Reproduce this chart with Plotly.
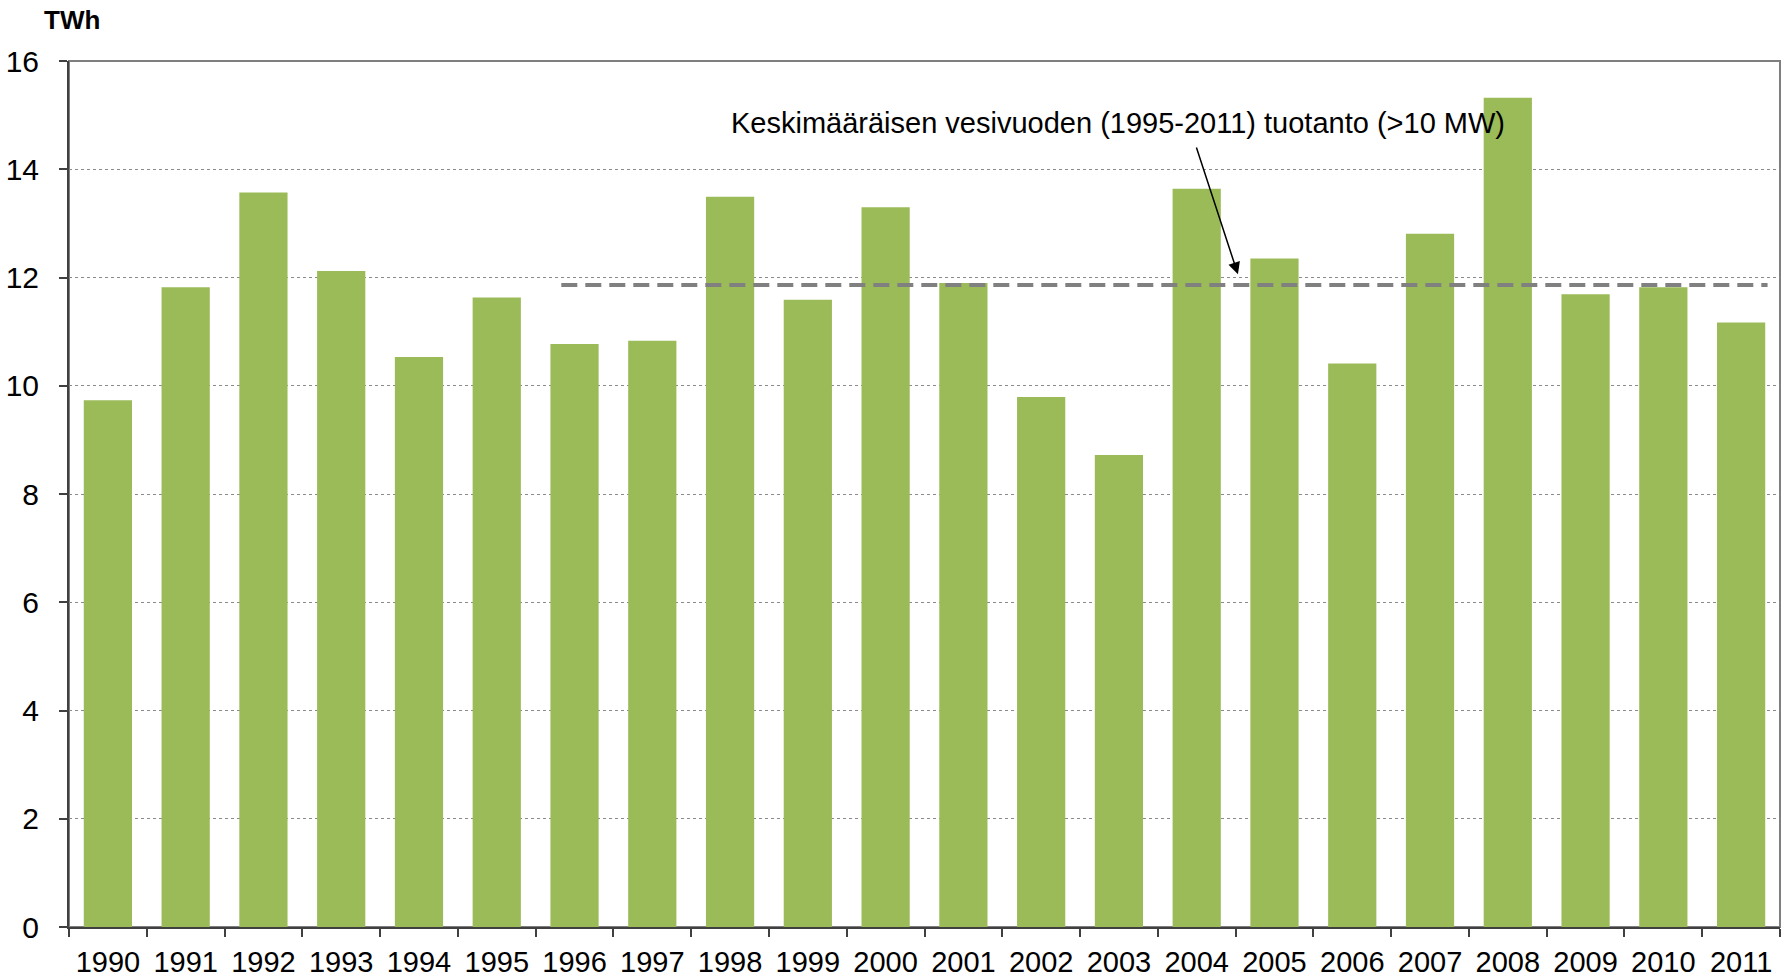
import plotly.graph_objects as go

years = ["1990", "1991", "1992", "1993", "1994", "1995", "1996", "1997", "1998", "1999", "2000",
         "2001", "2002", "2003", "2004", "2005", "2006", "2007", "2008", "2009", "2010", "2011"]
production = [9.73, 11.82, 13.57, 12.12, 10.53, 11.63, 10.77, 10.83, 13.49, 11.59, 13.30,
              11.90, 9.79, 8.72, 13.64, 12.35, 10.41, 12.81, 15.32, 11.69, 11.82, 11.17]
avg_value = 11.86
avg_start = "1996"
avg_end = "2011"
y_ticks = [0, 2, 4, 6, 8, 10, 12, 14, 16]
note_text = "Keskimääräisen vesivuoden (1995-2011) tuotanto (>10 MW)"
unit_label = "TWh"

FONT = "Liberation Sans, Arial, sans-serif"

W, H = 1789, 977
L, R, T, B = 69, 9, 61, 50
PW, PH = W - L - R, H - T - B

fig = go.Figure()
fig.add_trace(go.Bar(x=years, y=production, marker=dict(color="#9BBB59", line=dict(width=0)),
                     width=0.62, hoverinfo="skip"))

i0 = years.index(avg_start) - 0.17
i1 = years.index(avg_end) + 0.34
fig.add_shape(type="line", xref="x", yref="y", x0=i0, x1=i1, y0=avg_value, y1=avg_value,
              line=dict(color="#808080", width=4, dash="16px,8px"), layer="above")

fig.add_shape(type="rect", xref="paper", yref="paper", x0=0, x1=1, y0=0, y1=1,
              line=dict(color="#7f7f7f", width=2), layer="below")

fig.add_annotation(x=(years.index("2004") + years.index("2005")) / 2 + 0.03, y=12.06,
                   ax=years.index("2004") - 0.01, ay=14.43, xref="x", yref="y",
                   axref="x", ayref="y", text="", showarrow=True, arrowhead=2,
                   arrowsize=1.6, arrowwidth=1.5, arrowcolor="black")
fig.add_annotation(x=years.index("2003") - 0.01, y=14.86, xref="x", yref="y", text=note_text,
                   showarrow=False, font=dict(family=FONT, size=29, color="black"))
fig.add_annotation(xref="paper", yref="paper", x=(42 - L) / PW, y=1 + (T - 20) / PH,
                   text="<b>" + unit_label + "</b>", showarrow=False,
                   font=dict(family=FONT, size=26, color="black"),
                   xanchor="left", yanchor="middle")

fig.update_layout(
    width=W, height=H,
    margin=dict(l=L, r=R, t=T, b=B),
    plot_bgcolor="white", paper_bgcolor="white",
    showlegend=False,
    font=dict(family=FONT, size=29, color="black"),
)
fig.update_xaxes(type="category", tickson="boundaries", ticks="outside", ticklen=8,
                 tickwidth=2, tickcolor="#404040", showline=True, linecolor="#404040",
                 linewidth=2, showgrid=False, tickfont=dict(size=29), range=[-0.5, 21.5],
                 ticklabelstandoff=8, automargin=False)
fig.update_yaxes(range=[0, 16], tickvals=y_ticks, ticks="outside", ticklen=8, tickwidth=2,
                 tickcolor="#404040", showline=True, linecolor="#404040", linewidth=2,
                 showgrid=True, gridcolor="#8a8a8a", gridwidth=1, griddash="dot",
                 tickfont=dict(size=30), zeroline=False, ticklabelstandoff=14,
                 automargin=False)

fig.write_html("out.html", config={"displayModeBar": False},
               post_script="document.body.style.margin='0px';")
